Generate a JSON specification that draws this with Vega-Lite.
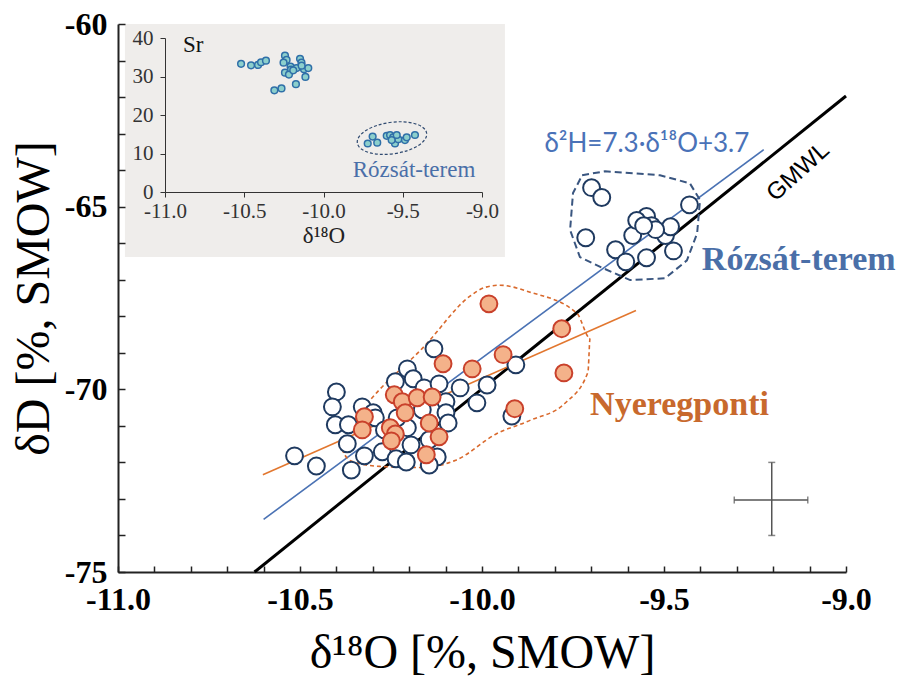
{
"$schema":"https://vega.github.io/schema/vega-lite/v6.json",
"width":728,"height":548,
"autosize":{"type":"none"},
"padding":{"left":118,"top":24,"right":55,"bottom":114},
"background":"#ffffff",
"config":{"view":{"stroke":null},"axis":{"grid":false}},
"resolve":{"scale":{"x":"independent","y":"independent"}},
"layer":[
{"data":{"values":[{"x":-10,"y":-70}]},
 "mark":{"type":"point","opacity":0},
 "encoding":{
  "x":{"field":"x","type":"quantitative","scale":{"domain":[-11,-9],"nice":false,"zero":false},
    "axis":{"orient":"top","offset":-548,"values":[-11,-10.9,-10.8,-10.7,-10.6,-10.5,-10.4,-10.3,-10.2,-10.1,-10,-9.9,-9.8,-9.7,-9.6,-9.5,-9.4,-9.3,-9.2,-9.1,-9],
      "labels":false,"domain":false,"ticks":true,"tickSize":6,"tickColor":"#222","tickWidth":1.5,"title":null,"zindex":2}},
  "y":{"field":"y","type":"quantitative","scale":{"domain":[-75,-60],"nice":false,"zero":false},
    "axis":{"orient":"right","offset":-728,"values":[-75,-74,-73,-72,-71,-70,-69,-68,-67,-66,-65,-64,-63,-62,-61,-60],
      "labels":false,"domain":false,"ticks":true,"tickSize":7,"tickColor":"#222","tickWidth":1.5,"title":null,"zindex":2}}}},
{"layer":[
 {"data":{"values":[{"x":-10.981,"x2":-9.937,"y":-60,"y2":-66.38}]},
  "mark":{"type":"rect","fill":"#efedeb"},
  "encoding":{
   "x":{"field":"x","type":"quantitative","scale":{"domain":[-11,-9],"nice":false,"zero":false},
     "axis":{"values":[-11,-10.5,-10,-9.5,-9],
       "labelExpr":"'-' + format(abs(datum.value), '.1f')",
       "ticks":true,"tickSize":0,"domainColor":"#222","domainWidth":2,
       "labelFont":"Liberation Serif","labelFontWeight":"bold","labelFontSize":32,"labelColor":"#000",
       "labelPadding":12,"labelOverlap":false,"labelFlush":false,"labelDx":10,
       "title":"δ¹⁸O [%, SMOW]","titleFont":"Liberation Serif","titleFontSize":48,"titleFontWeight":"normal","titleColor":"#000","titlePadding":14}},
   "x2":{"field":"x2"},
   "y":{"field":"y","type":"quantitative","scale":{"domain":[-75,-60],"nice":false,"zero":false},
     "axis":{"values":[-75,-70,-65,-60],
       "labelExpr":"'-' + format(abs(datum.value), 'd')",
       "ticks":true,"tickSize":0,"domainColor":"#222","domainWidth":2,
       "labelFont":"Liberation Serif","labelFontWeight":"bold","labelFontSize":32,"labelColor":"#000",
       "labelPadding":11,"labelOverlap":false,"labelFlush":false,
       "title":"δD [%, SMOW]","titleFont":"Liberation Serif","titleFontSize":48,"titleFontWeight":"normal","titleColor":"#000","titlePadding":6}},
   "y2":{"field":"y2"}}},
 {"data":{"values":[{"x":-10.625,"y":-75},{"x":-9.0,"y":-61.97}]},
  "mark":{"type":"line","color":"#000","strokeWidth":3},
  "encoding":{"x":{"field":"x","type":"quantitative","scale":{"domain":[-11,-9],"nice":false,"zero":false}},
   "y":{"field":"y","type":"quantitative","scale":{"domain":[-75,-60],"nice":false,"zero":false}}}},
 {"data":{"values":[{"x":-10.60,"y":-73.56},{"x":-9.226,"y":-63.44}]},
  "mark":{"type":"line","color":"#4a72b4","strokeWidth":1.6},
  "encoding":{"x":{"field":"x","type":"quantitative","scale":{"domain":[-11,-9],"nice":false,"zero":false}},
   "y":{"field":"y","type":"quantitative","scale":{"domain":[-75,-60],"nice":false,"zero":false}}}},
 {"data":{"values":[{"x":-10.602,"y":-72.34},{"x":-9.577,"y":-67.84}]},
  "mark":{"type":"line","color":"#e2772f","strokeWidth":1.6},
  "encoding":{"x":{"field":"x","type":"quantitative","scale":{"domain":[-11,-9],"nice":false,"zero":false}},
   "y":{"field":"y","type":"quantitative","scale":{"domain":[-75,-60],"nice":false,"zero":false}}}},
 {"data":{"values":[
   {"i":0,"x":-10.390,"y":-71.53},{"i":1,"x":-10.363,"y":-71.07},{"i":2,"x":-10.151,"y":-68.74},{"i":3,"x":-10.033,"y":-67.45},
   {"i":4,"x":-9.992,"y":-67.21},{"i":5,"x":-9.951,"y":-67.15},{"i":6,"x":-9.868,"y":-67.34},{"i":7,"x":-9.739,"y":-67.92},
   {"i":8,"x":-9.703,"y":-68.60},{"i":9,"x":-9.709,"y":-69.53},{"i":10,"x":-9.772,"y":-70.38},{"i":11,"x":-9.868,"y":-70.85},
   {"i":12,"x":-9.959,"y":-71.21},{"i":13,"x":-10.074,"y":-71.95},{"i":14,"x":-10.170,"y":-72.14},{"i":15,"x":-10.280,"y":-72.11},
   {"i":16,"x":-10.363,"y":-71.95},{"i":17,"x":-10.390,"y":-71.53}]},
  "mark":{"type":"line","color":"#d9692c","strokeWidth":1.6,"strokeDash":[4,3],"interpolate":"monotone"},
  "encoding":{"x":{"field":"x","type":"quantitative","scale":{"domain":[-11,-9],"nice":false,"zero":false}},
   "y":{"field":"y","type":"quantitative","scale":{"domain":[-75,-60],"nice":false,"zero":false}},
   "order":{"field":"i","type":"quantitative"}}},
 {"data":{"values":[
   {"i":0,"x":-9.725,"y":-64.14},{"i":1,"x":-9.662,"y":-64.03},{"i":2,"x":-9.511,"y":-64.14},{"i":3,"x":-9.429,"y":-64.36},
   {"i":4,"x":-9.401,"y":-64.82},{"i":5,"x":-9.409,"y":-65.73},{"i":6,"x":-9.437,"y":-66.47},{"i":7,"x":-9.497,"y":-66.96},
   {"i":8,"x":-9.593,"y":-67.01},{"i":9,"x":-9.668,"y":-66.68},{"i":10,"x":-9.731,"y":-66.38},{"i":11,"x":-9.758,"y":-65.64},
   {"i":12,"x":-9.750,"y":-64.63},{"i":13,"x":-9.725,"y":-64.14}]},
  "mark":{"type":"line","color":"#3a5680","strokeWidth":2,"strokeDash":[7,4]},
  "encoding":{"x":{"field":"x","type":"quantitative","scale":{"domain":[-11,-9],"nice":false,"zero":false}},
   "y":{"field":"y","type":"quantitative","scale":{"domain":[-75,-60],"nice":false,"zero":false}},
   "order":{"field":"i","type":"quantitative"}}},
 {"data":{"values":[
   {"x":-10.515,"y":-71.82},{"x":-10.455,"y":-72.10},{"x":-10.400,"y":-70.07},{"x":-10.411,"y":-70.48},{"x":-10.403,"y":-70.97},
   {"x":-10.367,"y":-70.97},{"x":-10.370,"y":-71.49},{"x":-10.359,"y":-72.21},{"x":-10.329,"y":-70.48},{"x":-10.323,"y":-71.82},
   {"x":-10.299,"y":-70.64},{"x":-10.274,"y":-71.71},{"x":-10.236,"y":-71.90},{"x":-10.238,"y":-69.79},{"x":-10.205,"y":-69.44},
   {"x":-10.189,"y":-69.71},{"x":-10.205,"y":-71.05},{"x":-10.195,"y":-71.52},{"x":-10.208,"y":-71.99},{"x":-10.159,"y":-69.96},
   {"x":-10.132,"y":-68.89},{"x":-10.118,"y":-69.85},{"x":-10.099,"y":-70.34},{"x":-10.099,"y":-70.64},{"x":-10.093,"y":-70.92},
   {"x":-10.123,"y":-71.85},{"x":-10.145,"y":-72.07},{"x":-10.060,"y":-69.96},{"x":-10.014,"y":-70.37},{"x":-9.986,"y":-69.88},
   {"x":-9.907,"y":-69.33},{"x":-9.918,"y":-70.73},{"x":-10.145,"y":-71.38},{"x":-10.164,"y":-70.56},{"x":-10.293,"y":-70.78},
   {"x":-10.233,"y":-70.78},{"x":-10.268,"y":-71.11},
   {"x":-9.699,"y":-64.48},{"x":-9.671,"y":-64.75},{"x":-9.715,"y":-65.85},{"x":-9.633,"y":-66.18},{"x":-9.605,"y":-66.51},
   {"x":-9.548,"y":-66.40},{"x":-9.474,"y":-66.21},{"x":-9.496,"y":-65.79},{"x":-9.482,"y":-65.55},{"x":-9.586,"y":-65.79},
   {"x":-9.562,"y":-65.41},{"x":-9.548,"y":-65.27},{"x":-9.534,"y":-65.52},{"x":-9.430,"y":-64.95},{"x":-9.575,"y":-65.38},
   {"x":-9.523,"y":-65.63},{"x":-9.556,"y":-65.52}]},
  "mark":{"type":"point","shape":"circle","filled":true,"fill":"#ffffff","stroke":"#1f3a60","strokeWidth":2,"size":285,"opacity":1},
  "encoding":{"x":{"field":"x","type":"quantitative","scale":{"domain":[-11,-9],"nice":false,"zero":false}},
   "y":{"field":"y","type":"quantitative","scale":{"domain":[-75,-60],"nice":false,"zero":false}}}},
 {"data":{"values":[
   {"x":-10.323,"y":-70.75},{"x":-10.329,"y":-71.11},{"x":-10.252,"y":-71.05},{"x":-10.238,"y":-71.22},{"x":-10.249,"y":-71.41},
   {"x":-10.241,"y":-70.15},{"x":-10.219,"y":-70.34},{"x":-10.211,"y":-70.64},{"x":-10.178,"y":-70.23},{"x":-10.137,"y":-70.21},
   {"x":-10.145,"y":-70.92},{"x":-10.118,"y":-71.30},{"x":-10.153,"y":-71.79},{"x":-10.107,"y":-69.30},{"x":-10.027,"y":-69.44},
   {"x":-9.942,"y":-69.05},{"x":-9.981,"y":-67.66},{"x":-9.781,"y":-68.34},{"x":-9.775,"y":-69.55},{"x":-9.910,"y":-70.53}]},
  "mark":{"type":"point","shape":"circle","filled":true,"fill":"#f4b28a","stroke":"#c9412b","strokeWidth":2,"size":285,"opacity":1},
  "encoding":{"x":{"field":"x","type":"quantitative","scale":{"domain":[-11,-9],"nice":false,"zero":false}},
   "y":{"field":"y","type":"quantitative","scale":{"domain":[-75,-60],"nice":false,"zero":false}}}},
 {"data":{"values":[{"x":-9.307,"x2":-9.105,"y":-73.03,"y2":-73.03},{"x":-9.204,"x2":-9.204,"y":-72.0,"y2":-74.0}]},
  "mark":{"type":"rule","color":"#555","strokeWidth":1.5},
  "encoding":{"x":{"field":"x","type":"quantitative","scale":{"domain":[-11,-9],"nice":false,"zero":false}},
   "x2":{"field":"x2"},
   "y":{"field":"y","type":"quantitative","scale":{"domain":[-75,-60],"nice":false,"zero":false}},
   "y2":{"field":"y2"}}},
 {"data":{"values":[{"x":-9.307,"y":-73.03},{"x":-9.105,"y":-73.03}]},
  "mark":{"type":"tick","orient":"vertical","color":"#555","size":7,"thickness":1.5},
  "encoding":{"x":{"field":"x","type":"quantitative","scale":{"domain":[-11,-9],"nice":false,"zero":false}},
   "y":{"field":"y","type":"quantitative","scale":{"domain":[-75,-60],"nice":false,"zero":false}}}},
 {"data":{"values":[{"x":-9.204,"y":-72.0},{"x":-9.204,"y":-74.0}]},
  "mark":{"type":"tick","orient":"horizontal","color":"#555","size":7,"thickness":1.5},
  "encoding":{"x":{"field":"x","type":"quantitative","scale":{"domain":[-11,-9],"nice":false,"zero":false}},
   "y":{"field":"y","type":"quantitative","scale":{"domain":[-75,-60],"nice":false,"zero":false}}}},
 {"data":{"values":[{"x":-9.547,"y":-63.29,"t":"δ²H=7.3·δ¹⁸O+3.7"}]},
  "mark":{"type":"text","font":"Lato","fontSize":26,"color":"#4a72b8","align":"center","baseline":"middle"},
  "encoding":{"x":{"field":"x","type":"quantitative","scale":{"domain":[-11,-9],"nice":false,"zero":false}},
   "y":{"field":"y","type":"quantitative","scale":{"domain":[-75,-60],"nice":false,"zero":false}},
   "text":{"field":"t"}}},
 {"data":{"values":[{"x":-9.131,"y":-64.05,"t":"GMWL"}]},
  "mark":{"type":"text","font":"Liberation Sans","fontSize":24,"color":"#000","align":"center","baseline":"middle","angle":318},
  "encoding":{"x":{"field":"x","type":"quantitative","scale":{"domain":[-11,-9],"nice":false,"zero":false}},
   "y":{"field":"y","type":"quantitative","scale":{"domain":[-75,-60],"nice":false,"zero":false}},
   "text":{"field":"t"}}},
 {"data":{"values":[{"x":-9.396,"y":-66.45,"t":"Rózsát-terem"}]},
  "mark":{"type":"text","font":"Liberation Serif","fontWeight":"bold","fontSize":34,"color":"#4a6fa8","align":"left","baseline":"middle"},
  "encoding":{"x":{"field":"x","type":"quantitative","scale":{"domain":[-11,-9],"nice":false,"zero":false}},
   "y":{"field":"y","type":"quantitative","scale":{"domain":[-75,-60],"nice":false,"zero":false}},
   "text":{"field":"t"}}},
 {"data":{"values":[{"x":-9.703,"y":-70.42,"t":"Nyeregponti"}]},
  "mark":{"type":"text","font":"Liberation Serif","fontWeight":"bold","fontSize":34,"color":"#c8692d","align":"left","baseline":"middle"},
  "encoding":{"x":{"field":"x","type":"quantitative","scale":{"domain":[-11,-9],"nice":false,"zero":false}},
   "y":{"field":"y","type":"quantitative","scale":{"domain":[-75,-60],"nice":false,"zero":false}},
   "text":{"field":"t"}}}
]},
{"layer":[
 {"data":{"values":[
   {"x":-10.52,"y":33.3},{"x":-10.457,"y":32.9},{"x":-10.413,"y":33.0},{"x":-10.394,"y":33.7},{"x":-10.363,"y":34.1},
   {"x":-10.243,"y":35.4},{"x":-10.233,"y":34.3},{"x":-10.252,"y":33.6},{"x":-10.208,"y":32.6},{"x":-10.243,"y":31.0},
   {"x":-10.205,"y":31.8},{"x":-10.218,"y":30.5},{"x":-10.148,"y":34.6},{"x":-10.139,"y":33.6},{"x":-10.170,"y":32.2},
   {"x":-10.123,"y":31.9},{"x":-10.096,"y":32.2},{"x":-10.114,"y":29.9},{"x":-10.138,"y":32.8},{"x":-10.191,"y":31.6},
   {"x":-10.174,"y":28.0},{"x":-10.265,"y":26.9},{"x":-10.310,"y":26.4},
   {"x":-9.721,"y":12.6},{"x":-9.690,"y":14.4},{"x":-9.661,"y":12.8},{"x":-9.601,"y":14.6},{"x":-9.580,"y":14.8},
   {"x":-9.560,"y":14.2},{"x":-9.549,"y":12.6},{"x":-9.528,"y":13.7},{"x":-9.486,"y":13.5},{"x":-9.475,"y":14.2},
   {"x":-9.423,"y":14.8},{"x":-9.538,"y":14.8},{"x":-9.570,"y":13.5}]},
  "mark":{"type":"point","shape":"circle","filled":true,"fill":"#8ccfcc","stroke":"#2f6fa8","strokeWidth":1.5,"size":45,"opacity":1},
  "encoding":{
   "x":{"field":"x","type":"quantitative","scale":{"domain":[-11,-9],"range":[47,364],"nice":false,"zero":false},
     "axis":{"orient":"bottom","offset":-380,"values":[-11,-10.5,-10,-9.5,-9],
       "labelExpr":"'-' + format(abs(datum.value), '.1f')",
       "tickSize":5,"tickColor":"#333","domainColor":"#333","labelFont":"Liberation Serif","labelFontSize":21,"labelColor":"#333",
       "labelPadding":3,"labelOverlap":false,"labelFlush":false,"zindex":1,
       "title":"δ¹⁸O","titleFont":"Liberation Serif","titleFontSize":23,"titleFontWeight":"normal","titleColor":"#222","titlePadding":3}},
   "y":{"field":"y","type":"quantitative","scale":{"domain":[0,40],"range":[168,14],"nice":false,"zero":false},
     "axis":{"orient":"left","offset":-47,"values":[0,10,20,30,40],"format":"d",
       "tickSize":5,"tickColor":"#333","domainColor":"#333","labelFont":"Liberation Serif","labelFontSize":21,"labelColor":"#333",
       "labelPadding":7,"labelOverlap":false,"labelFlush":false,"zindex":1,"title":null}}}},
 {"data":{"values":[{"x":-9.568,"y":14.0}]},
  "mark":{"type":"point","shape":"M-1,0A1,0.45,0,1,1,1,0A1,0.45,0,1,1,-1,0","size":4900,"filled":false,"stroke":"#2f4a70","strokeWidth":1.2,"strokeDash":[3,2],"angle":352,"opacity":1},
  "encoding":{"x":{"field":"x","type":"quantitative","scale":{"domain":[-11,-9],"range":[47,364],"nice":false,"zero":false}},
   "y":{"field":"y","type":"quantitative","scale":{"domain":[0,40],"range":[168,14],"nice":false,"zero":false}}}},
 {"data":{"values":[{"x":-10.886,"y":38.3,"t":"Sr"}]},
  "mark":{"type":"text","font":"Liberation Serif","fontSize":23,"color":"#111","align":"left","baseline":"middle"},
  "encoding":{"x":{"field":"x","type":"quantitative","scale":{"domain":[-11,-9],"range":[47,364],"nice":false,"zero":false}},
   "y":{"field":"y","type":"quantitative","scale":{"domain":[0,40],"range":[168,14],"nice":false,"zero":false}},
   "text":{"field":"t"}}},
 {"data":{"values":[{"x":-9.429,"y":5.7,"t":"Rózsát-terem"}]},
  "mark":{"type":"text","font":"Liberation Serif","fontSize":23,"color":"#4a6fa8","align":"center","baseline":"middle"},
  "encoding":{"x":{"field":"x","type":"quantitative","scale":{"domain":[-11,-9],"range":[47,364],"nice":false,"zero":false}},
   "y":{"field":"y","type":"quantitative","scale":{"domain":[0,40],"range":[168,14],"nice":false,"zero":false}},
   "text":{"field":"t"}}}
]}
]
}
